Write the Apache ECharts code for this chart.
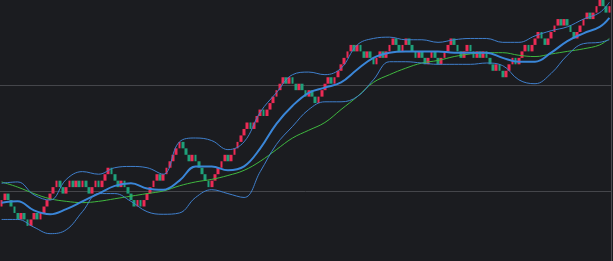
<!DOCTYPE html>
<html><head><meta charset="utf-8">
<script src="https://cdn.jsdelivr.net/npm/echarts/dist/echarts.min.js"></script>
<style>html,body{margin:0;padding:0;background:#1b1c20;}#c{width:613px;height:261px;}</style>
</head><body><div id="c"></div>
<script>
// Renko bricks: open of first brick and close of every brick (brick size 5)
const firstOpen = 3350;
const brickClose = [
3355,3360,3355, 3350,3345, 3340,3345,3340, 3335,3340, 3345,3340,3345,3350,
3355,3360,3365, 3370,3365, 3360,3365, 3370,3365,3370,3365,3370,3365, 3360,
3365,3370,3365,3370, 3375,3380, 3375,3370,3365,3370,3365,3360,3355,3350,
3355,3350,3355, 3360,3365,3370,3375, 3370,3375, 3380,3385,3390,3395,3400,
3395,3390,3385,3390, 3385,3380,3375,3370,3365, 3370,3375,3380,3385,3390,
3385,3390, 3395,3400,3405,3410,3415, 3410,3415,3420, 3425,3420,3425,
3430,3435,3440,3445,3450, 3445,3450,3445,3440,3445,3440, 3435,3440,3435,3430,3435,
3440,3445,3450,3445,3450,3455,3460,3465,3470,3475,
3470,3475,3470,3465,3470,3465,3460,3465,3470,3465,3470,3475,3480,3475,3470,3475,3480,3475,
3470,3465, 3470,3465,3460,3465,3470,3465,3460,3465,3470, 3475,3480, 3475,3470,
3465,3470,3475,3470,3465,3470,3465,3470,3465, 3460,3455,3460,3455,3450,
3455,3460,3465,3460,3465, 3470,3475,3470,3475,3480,3485, 3480,3475,3480,
3485,3490,3495, 3490,3495,3490, 3485,3480, 3485,3490,3495,3500,
3495,3500,3505,3510,3505,3500,3505
];
// indicator lines at every 5th brick
const lineIdx = [0,5,10,15,20,25,30,35,40,45,50,55,60,65,70,75,80,85,90,95,100,105,110,115,120,125,130,135,140,145,150,155,160,165,170,175,180,185,188];
const maMid = [3353,3354,3347,3344,3348,3354,3360,3366,3368,3364,3363,3370,3381,3381,3378,3381,3395,3414,3428,3438,3442,3446,3456,3465,3469,3470,3470,3470,3469,3469,3469,3465,3462,3462,3469,3478,3484,3489,3496];
const bandUpper = [3368,3369,3359,3355,3371,3377,3375,3380,3381,3380,3375,3400,3403,3401,3394,3400,3423,3438,3452,3454,3452,3457,3475,3480,3481,3479,3479,3477,3479,3480,3480,3477,3477,3482,3486,3489,3495,3500,3508];
const bandLower = [3340,3340,3334,3329,3332,3346,3360,3360,3354,3346,3344,3345,3357,3363,3360,3357,3377,3398,3412,3425,3431,3431,3435,3448,3462,3462,3461,3460,3460,3460,3461,3459,3448,3445,3453,3467,3476,3477,3479];
const maSlow = [3369,3365,3360,3356,3354,3353,3354,3356,3358,3360,3362,3366,3369,3371,3374,3378,3385,3394,3403,3409,3415,3425,3435,3446,3452,3457,3461,3463,3466,3468,3469,3469,3467,3466,3468,3470,3472,3475,3480];

const N = brickClose.length;
const cats = brickClose.map((_, i) => i);
const candles = brickClose.map((c, i) => {
  const o = i === 0 ? firstOpen : brickClose[i - 1];
  return [o, c, Math.min(o, c), Math.max(o, c)];
});
const pairs = arr => arr.map((v, k) => [lineIdx[k], v]);

const hidden = { show: false, axisLine: { show: false }, splitLine: { show: false }, axisTick: { show: false }, axisLabel: { show: false } };
const chart = echarts.init(document.getElementById('c'));
chart.setOption({
  animation: false,
  backgroundColor: '#1b1c20',
  grid: { left: 0, right: 2, top: -21, height: 318, outerBoundsMode: 'none', containLabel: false, show: false },
  xAxis: [
    Object.assign({ type: 'category', data: cats, boundaryGap: true }, hidden),
    Object.assign({ type: 'value', min: -0.5, max: N - 0.5 }, hidden)
  ],
  yAxis: {
    type: 'value', position: 'right', min: 3280, max: 3526, interval: 82,
    axisLine: { show: true, onZero: false, lineStyle: { color: '#4a4b50' } },
    axisTick: { show: false }, axisLabel: { show: false },
    splitLine: { show: true, lineStyle: { color: '#45464b', width: 1 } }
  },
  series: [
    { type: 'line', xAxisIndex: 1, data: pairs(maSlow), smooth: 0.4, showSymbol: false,
      lineStyle: { color: '#3fb83f', width: 1 } },
    { type: 'line', xAxisIndex: 1, data: pairs(bandUpper), smooth: 0.4, showSymbol: false,
      lineStyle: { color: '#3f7fcc', width: 1 } },
    { type: 'line', xAxisIndex: 1, data: pairs(bandLower), smooth: 0.4, showSymbol: false,
      lineStyle: { color: '#3f7fcc', width: 1 } },
    { type: 'line', xAxisIndex: 1, data: pairs(maMid), smooth: 0.4, showSymbol: false,
      lineStyle: { color: '#3a86d8', width: 2 } },
    { type: 'candlestick', xAxisIndex: 0, data: candles, barWidth: '100%',
      itemStyle: { color: '#ec2b55', color0: '#1fa07a', borderColor: '#ec2b55', borderColor0: '#1fa07a', borderWidth: 0 } }
  ]
});
</script>
</body></html>
